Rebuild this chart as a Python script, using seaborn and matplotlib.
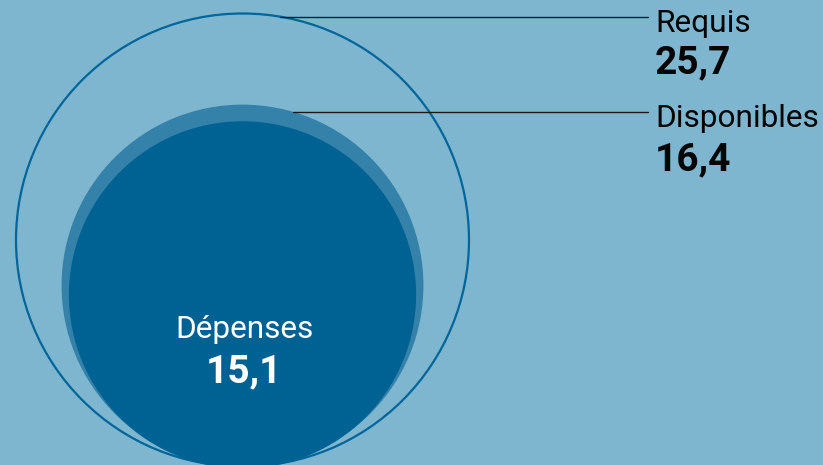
import numpy as np
import matplotlib.pyplot as plt
import seaborn as sns
from matplotlib.patches import Circle

# values (milliards)
labels = ["Requis", "Disponibles", "Dépenses"]
values = [25.7, 16.4, 15.1]
value_text = ["25,7", "16,4", "15,1"]

bg = "#7fb6cf"
sns.set_theme(style="white")
plt.rcParams['font.family'] = ['Roboto', 'DejaVu Sans']

fig = plt.figure(figsize=(8.23, 4.65), dpi=100, facecolor=bg)
ax = fig.add_axes([0, 0, 1, 1])
ax.set_facecolor(bg)
ax.set_xlim(0, 823)
ax.set_ylim(465, 0)
ax.set_axis_off()

# area-proportional circles, bottom aligned
r_max = 226.5
cx, base = 242.5, 466.5
radii = [r_max * np.sqrt(v / values[0]) for v in values]

ax.add_patch(Circle((cx, base - radii[0]), radii[0], fill=False,
                    edgecolor="#00659a", lw=1.6, zorder=2))
ax.add_patch(Circle((cx, base - radii[1]), radii[1], facecolor="#3482aa",
                    edgecolor="none", zorder=3))
ax.add_patch(Circle((cx, base - radii[2] + 2), radii[2], facecolor="#006193",
                    edgecolor="none", zorder=4))

# leader lines from circle tops-right to labels
line_y = [16.7, 111.7]
for i, y in enumerate(line_y):
    r = radii[i]
    cy = base - r
    x0 = cx + np.sqrt(max(r**2 - (y - cy)**2, 0))
    ax.plot([x0, 648], [y, y], color="#1a1a1a", lw=1.0, zorder=5)

lab_fs, val_fs = 22.8, 28

# right-side labels
ax.text(655, 31.5, labels[0], fontsize=lab_fs, color="#050505", va="baseline", ha="left")
ax.text(655, 73, value_text[0], fontsize=val_fs, fontweight="bold", color="#050505",
        va="baseline", ha="left")
ax.text(655, 127, labels[1], fontsize=lab_fs, color="#050505", va="baseline", ha="left")
ax.text(655, 170, value_text[1], fontsize=val_fs, fontweight="bold", color="#050505",
        va="baseline", ha="left")

# inner label
ax.text(245, 338, labels[2], fontsize=lab_fs, color="white", va="baseline", ha="center", zorder=6)
ax.text(244, 382, value_text[2], fontsize=val_fs, fontweight="bold", color="white",
        va="baseline", ha="center", zorder=6)

fig.savefig("out.png", dpi=100, facecolor=bg)
